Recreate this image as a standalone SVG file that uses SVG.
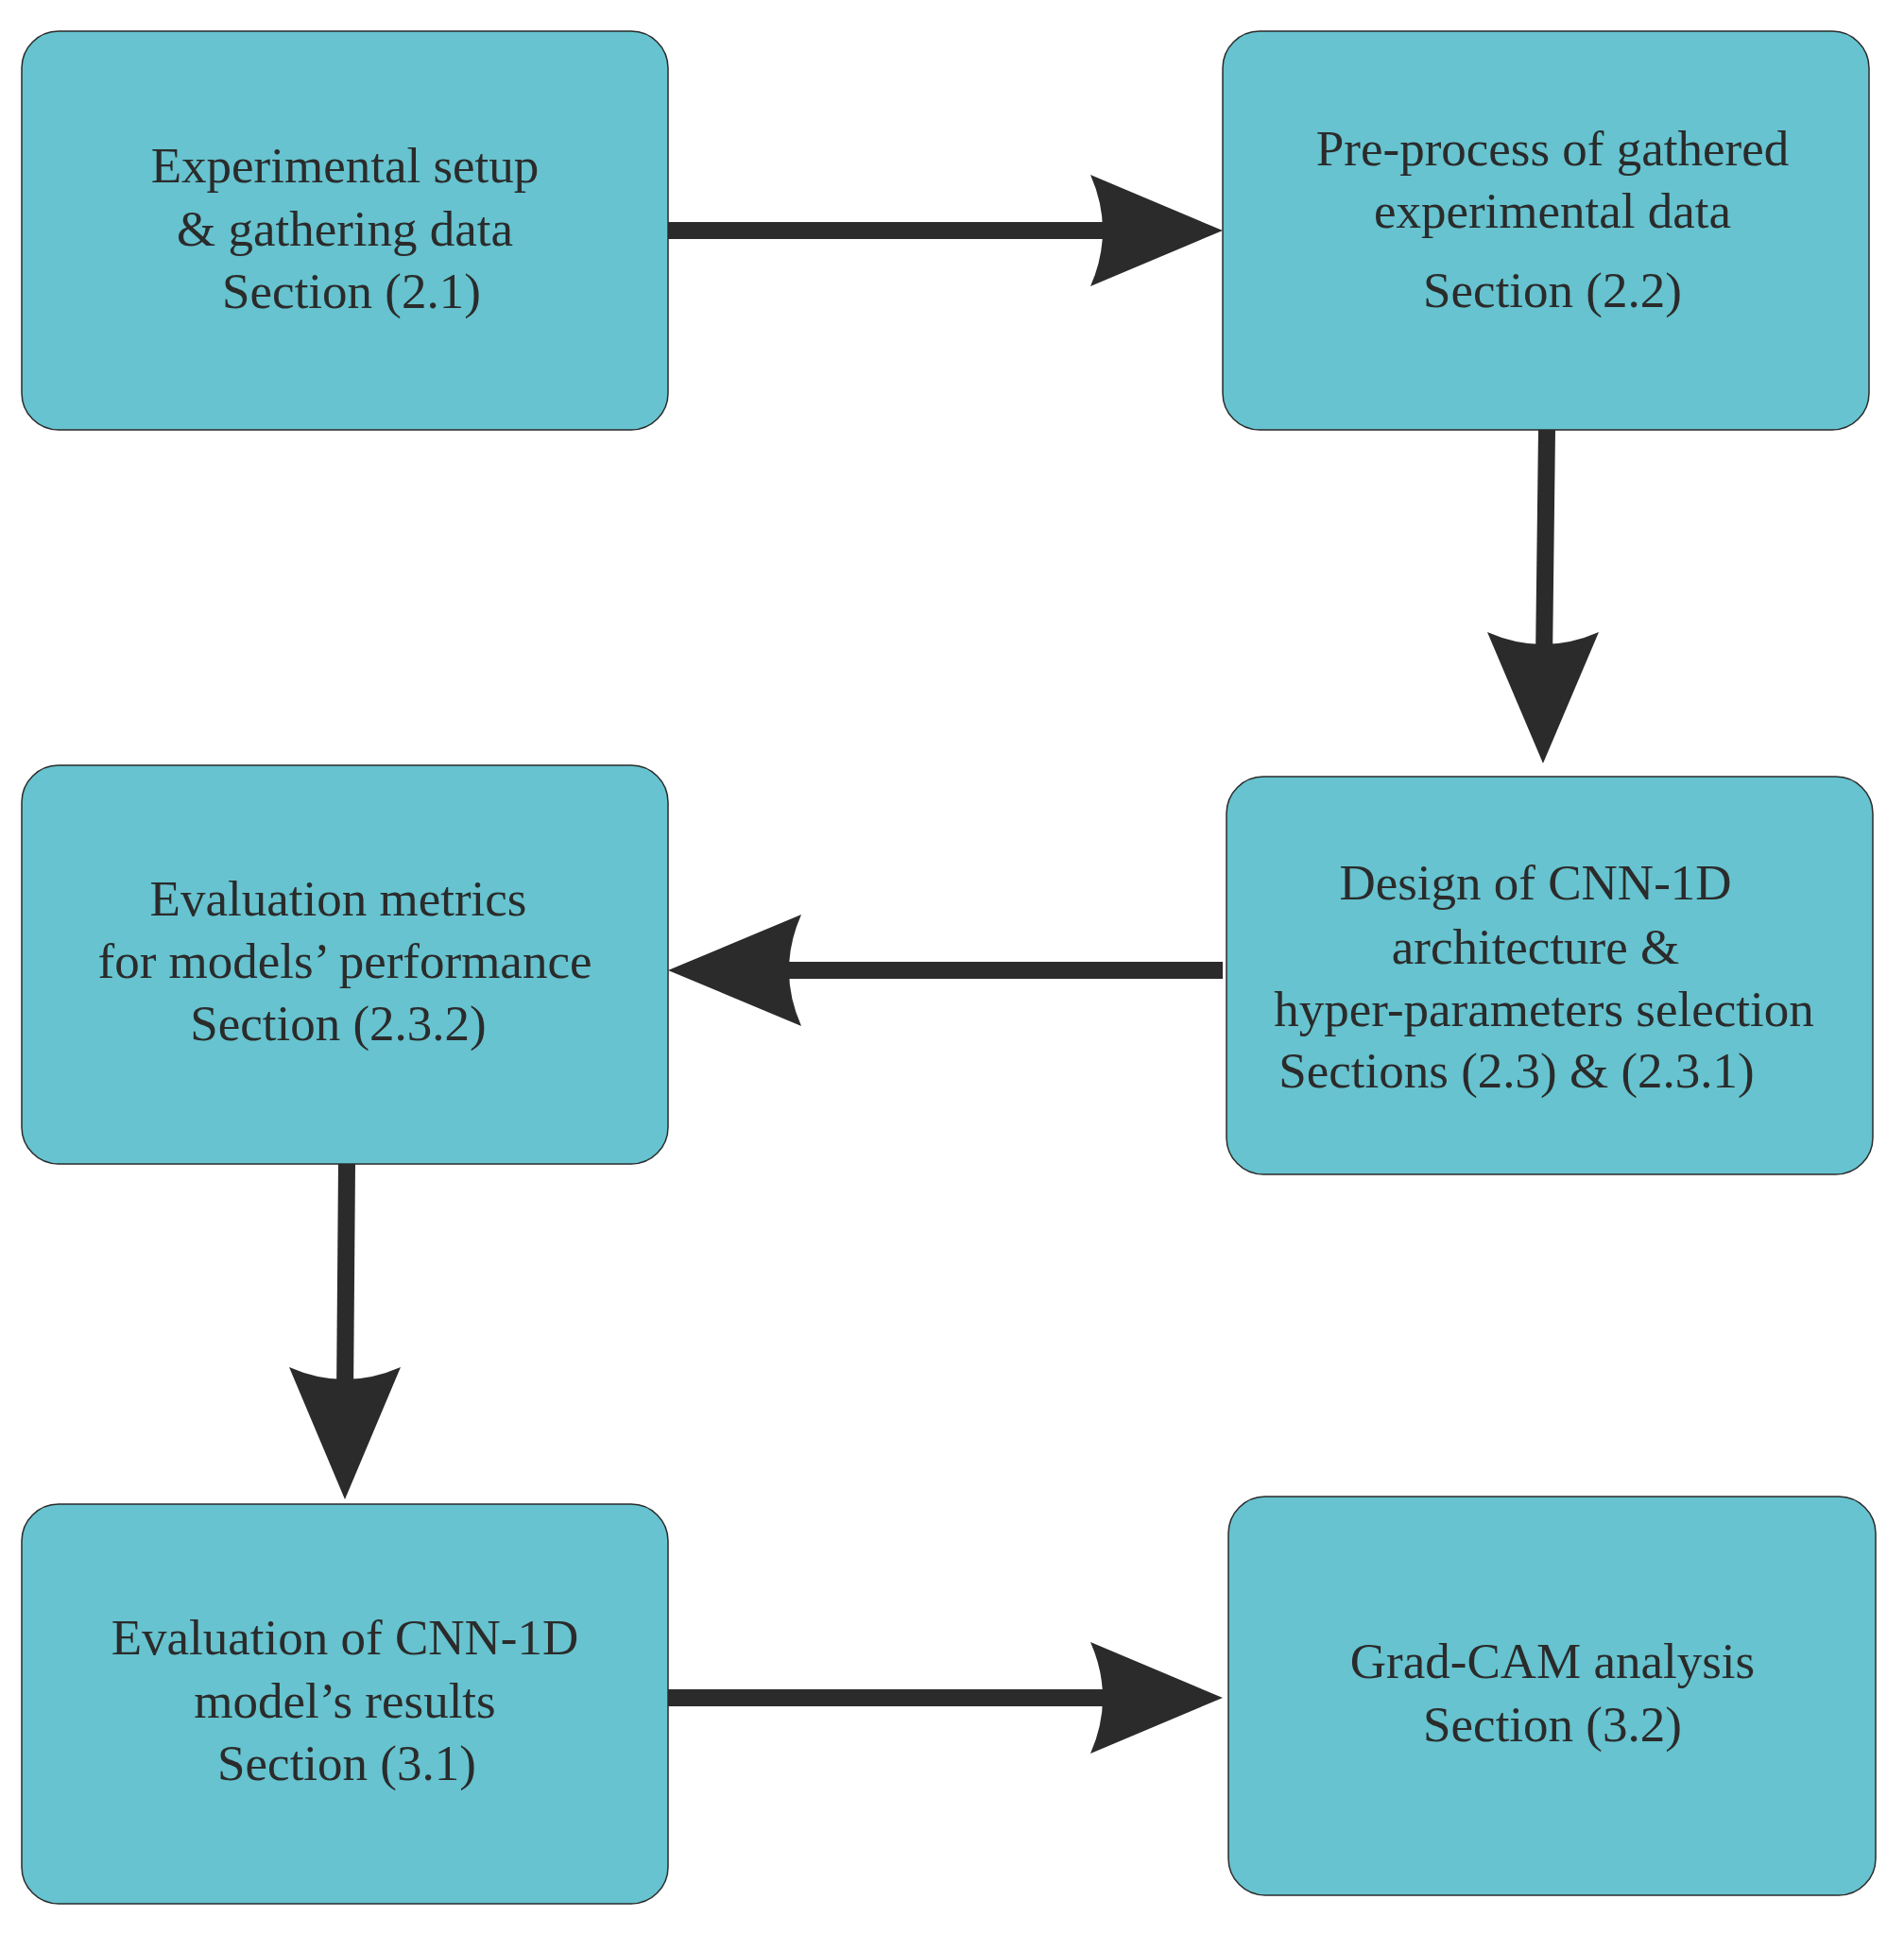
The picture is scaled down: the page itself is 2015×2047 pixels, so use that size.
<svg xmlns="http://www.w3.org/2000/svg" width="2015" height="2047" viewBox="0 0 2015 2047">
<style>
.box{fill:#66C3CF;stroke:#2b2b2b;stroke-width:1.5}
.t{font-family:"Liberation Serif",serif;font-size:53px;fill:#2b2b2b;text-anchor:middle}
.ln{stroke:#2b2b2b;stroke-width:18;fill:none}
.hd{fill:#2b2b2b}
</style>
<rect width="2015" height="2047" fill="#fff"/>
<g id="n1"><rect class="box" x="23" y="33" width="684" height="422" rx="39"/>
<text class="t" x="365" y="193">Experimental setup</text><text class="t" x="365" y="260">&amp; gathering data</text><text class="t" x="372" y="326">Section (2.1)</text></g>
<g id="n2"><rect class="box" x="1294" y="33" width="684" height="422" rx="39"/>
<text class="t" x="1643" y="175">Pre-process of gathered</text><text class="t" x="1643" y="241">experimental data</text><text class="t" x="1643" y="325">Section (2.2)</text></g>
<g id="n3"><rect class="box" x="1298" y="822" width="684" height="421" rx="39"/>
<text class="t" x="1625" y="952">Design of CNN-1D</text><text class="t" x="1625" y="1020">architecture &amp;</text><text class="t" x="1634" y="1086">hyper-parameters selection</text><text class="t" x="1605" y="1151">Sections (2.3) &amp; (2.3.1)</text></g>
<g id="n4"><rect class="box" x="23" y="810" width="684" height="422" rx="39"/>
<text class="t" x="358" y="969">Evaluation metrics</text><text class="t" x="365" y="1035">for models’ performance</text><text class="t" x="358" y="1101">Section (2.3.2)</text></g>
<g id="n5"><rect class="box" x="23" y="1592" width="684" height="423" rx="39"/>
<text class="t" x="365" y="1751">Evaluation of CNN-1D</text><text class="t" x="365" y="1818">model’s results</text><text class="t" x="367" y="1884">Section (3.1)</text></g>
<g id="n6"><rect class="box" x="1300" y="1584" width="685" height="422" rx="39"/>
<text class="t" x="1643" y="1776">Grad-CAM analysis</text><text class="t" x="1643" y="1843">Section (3.2)</text></g>
<g id="connectors">
<line class="ln" x1="707" y1="244" x2="1180" y2="244"/><path class="hd" d="M1294 244 L1154 185 Q1180 244 1154 303 Z"/>
<line class="ln" x1="1637" y1="455" x2="1634" y2="700"/><path class="hd" d="M1633 808 L1574 669 Q1633 695 1692 669 Z"/>
<line class="ln" x1="1294" y1="1027" x2="820" y2="1027"/><path class="hd" d="M707 1027 L848 968 Q822 1027 848 1086 Z"/>
<line class="ln" x1="367" y1="1232" x2="365" y2="1480"/><path class="hd" d="M365 1587 L306 1447 Q365 1473 424 1447 Z"/>
<line class="ln" x1="707" y1="1797" x2="1180" y2="1797"/><path class="hd" d="M1294 1797 L1154 1738 Q1180 1797 1154 1856 Z"/>
</g>
</svg>
